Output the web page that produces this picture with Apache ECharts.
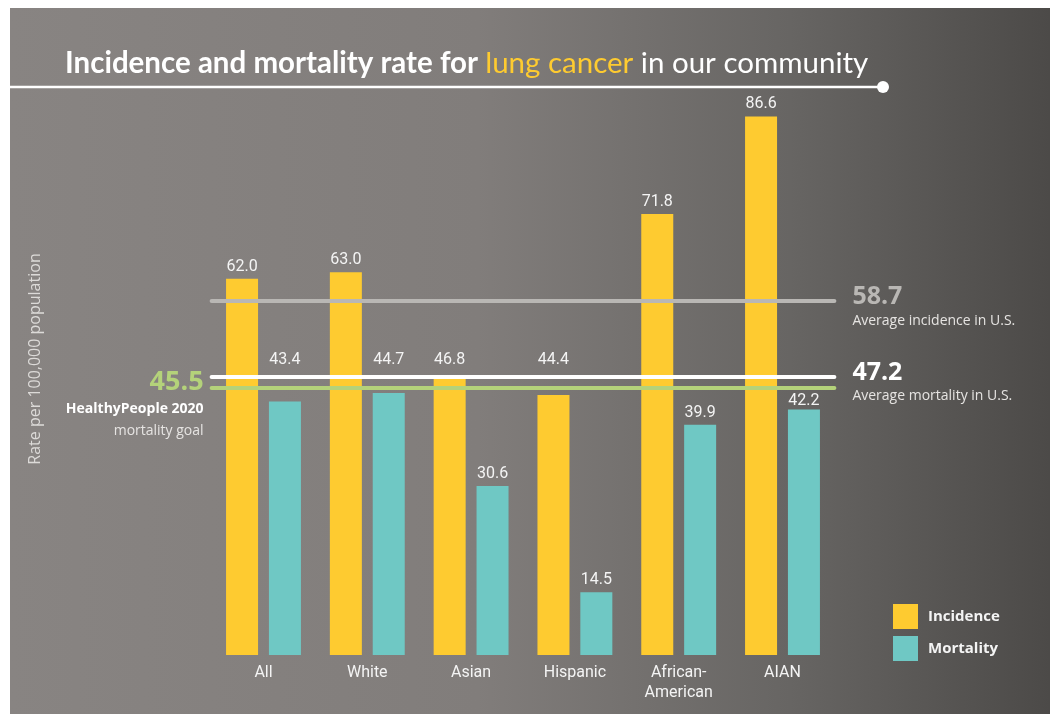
<!DOCTYPE html>
<html>
<head>
<meta charset="utf-8">
<script src="https://cdn.jsdelivr.net/npm/echarts@6/dist/echarts.min.js"></script>
<style>
  html, body { margin: 0; padding: 0; background: #ffffff; }
  #chart { width: 1050px; height: 714px; }
</style>
</head>
<body>
<div id="chart"></div>
<script>
// groups along the x axis
const groups = ['All', 'White', 'Asian', 'Hispanic', 'African-\nAmerican', 'AIAN']
// rates per 100,000
const incidence = [62.0, 63.0, 46.8, 44.4, 71.8, 86.6]
const mortality = [43.4, 44.7, 30.6, 14.5, 39.9, 42.2]
// benchmarks
const usIncidence = 58.7
const usMortality = 47.2
const hpGoal = 45.5

const YELLOW = '#fecb30'
const TEAL = '#6fc8c4'
const GREEN = '#b4d27a'
const LIGHTGREY = '#b9b7b4'
const LABEL_DIST = 4

const chart = echarts.init(document.getElementById('chart'))

const barLabel = {
  show: true,
  position: 'top',
  distance: LABEL_DIST,
  color: '#f4f4f4',
  fontSize: 16,
  formatter: p => p.value.toFixed(1)
}

chart.setOption({
  animation: false,
  textStyle: { fontFamily: 'Roboto, sans-serif' },
  graphic: [
    {
      type: 'rect',
      z: -10,
      shape: { x: 10, y: 8, width: 1040, height: 706 },
      style: {
        fill: new echarts.graphic.LinearGradient(0, 0, 1, 0, [
          { offset: 0, color: '#888482' },
          { offset: 0.45, color: '#817d7b' },
          { offset: 0.75, color: '#676563' },
          { offset: 1, color: '#4c4a48' }
        ])
      }
    },
    {
      type: 'line',
      shape: { x1: 10, y1: 87, x2: 883, y2: 87 },
      style: { stroke: '#ffffff', lineWidth: 2.5 }
    },
    {
      type: 'circle',
      shape: { cx: 883, cy: 87, r: 6 },
      style: { fill: '#ffffff' }
    },
    {
      type: 'text',
      x: 35,
      y: 359,
      rotation: Math.PI / 2,
      style: {
        text: 'Rate per 100,000 population',
        fill: '#dcdad8',
        font: '16px "Open Sans", sans-serif',
        align: 'center',
        verticalAlign: 'middle'
      }
    }
  ],
  title: {
    left: 60,
    top: 43,
    text: '{b|Incidence and mortality rate for }{y|lung cancer}{n| in our community}',
    textStyle: {
      rich: {
        b: { color: '#ffffff', fontSize: 29.5, fontWeight: 'bold', fontFamily: 'Lato, sans-serif' },
        y: { color: YELLOW, fontSize: 29.5, fontWeight: 'normal', fontFamily: 'Lato, sans-serif' },
        n: { color: '#ffffff', fontSize: 29.5, fontWeight: 'normal', fontFamily: 'Lato, sans-serif' }
      }
    }
  },
  legend: {
    orient: 'vertical',
    left: 888,
    top: 599,
    itemWidth: 25,
    itemHeight: 25,
    itemGap: 7,
    icon: 'rect',
    textStyle: { color: '#f4f4f4', fontSize: 15, fontWeight: 'bold', padding: [0, 0, 0, 5], fontFamily: '"Open Sans", sans-serif' },
    data: ['Incidence', 'Mortality']
  },
  grid: { left: 211.6, right: 215.6, top: 94, bottom: 59 },
  xAxis: {
    type: 'category',
    data: groups,
    axisLine: { show: false },
    axisTick: { show: false },
    axisLabel: { color: '#f4f4f4', fontSize: 16, margin: 8, lineHeight: 20 }
  },
  yAxis: {
    type: 'value',
    min: 5,
    max: 90,
    axisLine: { show: false },
    axisTick: { show: false },
    axisLabel: { show: false },
    splitLine: { show: false }
  },
  series: [
    {
      name: 'Incidence',
      type: 'bar',
      data: incidence,
      barWidth: 32,
      barGap: '34%',
      itemStyle: { color: YELLOW },
      label: barLabel
    },
    {
      name: 'Mortality',
      type: 'bar',
      data: mortality,
      barWidth: 32,
      itemStyle: { color: TEAL },
      label: barLabel,
      markLine: {
        silent: true,
        symbol: 'none',
        z: 5,
        data: [
          {
            yAxis: usIncidence,
            lineStyle: { color: LIGHTGREY, width: 4, type: 'solid', cap: 'round' },
            label: {
              position: 'end',
              distance: 18,
              align: 'left',
              padding: [12, 0, 0, 0],
              formatter: '{v|' + usIncidence.toFixed(1) + '}\n{t|Average incidence in U.S.}',
              rich: {
                v: { color: LIGHTGREY, fontSize: 25, fontWeight: 'bold', lineHeight: 28, fontFamily: '"Open Sans", sans-serif' },
                t: { color: '#e6e4e2', fontSize: 14, lineHeight: 20, fontFamily: '"Open Sans", sans-serif' }
              }
            }
          },
          {
            yAxis: usMortality,
            lineStyle: { color: '#ffffff', width: 4, type: 'solid', cap: 'round' },
            label: {
              position: 'end',
              distance: 18,
              align: 'left',
              padding: [12, 0, 0, 0],
              formatter: '{v|' + usMortality.toFixed(1) + '}\n{t|Average mortality in U.S.}',
              rich: {
                v: { color: '#ffffff', fontSize: 25, fontWeight: 'bold', lineHeight: 28, fontFamily: '"Open Sans", sans-serif' },
                t: { color: '#e6e4e2', fontSize: 14, lineHeight: 20, fontFamily: '"Open Sans", sans-serif' }
              }
            }
          },
          {
            yAxis: hpGoal,
            lineStyle: { color: GREEN, width: 4, type: 'solid', cap: 'round' },
            label: {
              position: 'start',
              distance: 8,
              align: 'right',
              padding: [34, 0, 0, 0],
              formatter: '{v|' + hpGoal.toFixed(1) + '}\n{b|HealthyPeople 2020}\n{t|mortality goal}',
              rich: {
                v: { color: GREEN, fontSize: 27, fontWeight: 'bold', lineHeight: 30, align: 'right', fontFamily: '"Open Sans", sans-serif' },
                b: { color: '#ffffff', fontSize: 14, fontWeight: 'bold', lineHeight: 22, align: 'right', fontFamily: '"Open Sans", sans-serif' },
                t: { color: '#e6e4e2', fontSize: 14, lineHeight: 22, align: 'right', fontFamily: '"Open Sans", sans-serif' }
              }
            }
          }
        ]
      }
    }
  ]
})

// bar labels that would sit on the benchmark lines get lifted above the white line,
// ones just under the green line sit closer to their bar
const toY = v => chart.convertToPixel({ yAxisIndex: 0 }, v)
const lineTop = toY(usMortality) - 6
const lowest = toY(hpGoal) + 19
const liftLabels = values => values.map(v => {
  const top = toY(v)
  if (top > lineTop - 18 && top < lowest) {
    return { value: v, label: { distance: top - lineTop + LABEL_DIST - 2 } }
  }
  if (top >= lowest && top < lowest + 6) {
    return { value: v, label: { distance: 0 } }
  }
  return v
})
chart.setOption({
  series: [
    { name: 'Incidence', data: liftLabels(incidence) },
    { name: 'Mortality', data: liftLabels(mortality) }
  ]
})
</script>
</body>
</html>
